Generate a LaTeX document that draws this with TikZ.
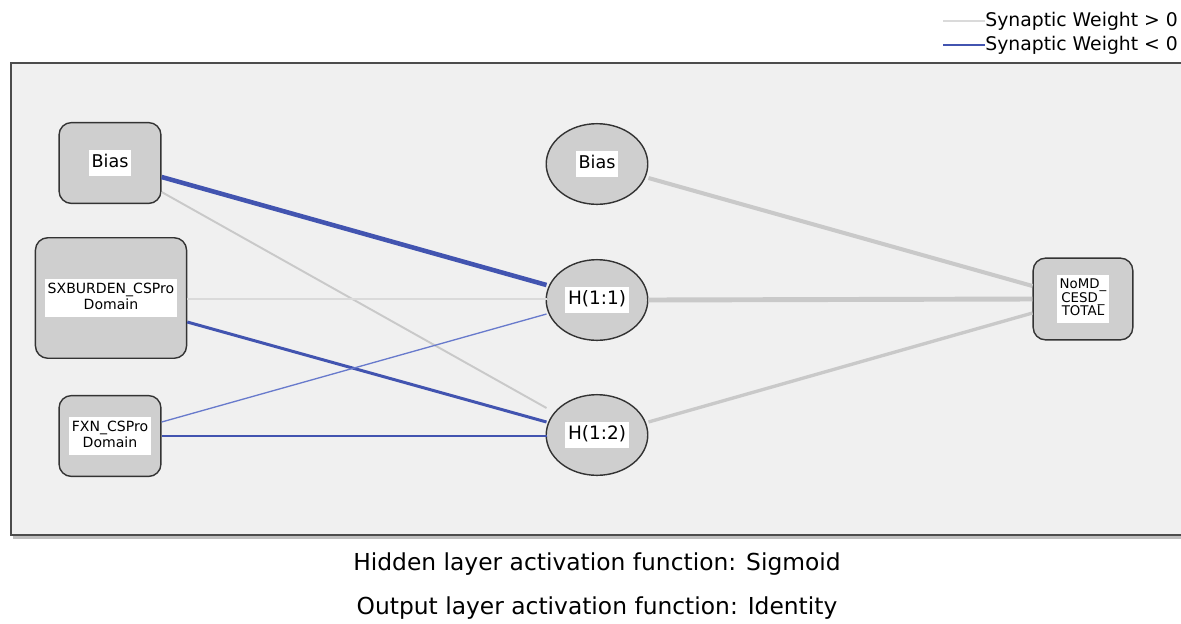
\documentclass[tikz,border=0pt]{standalone}
\usepackage{fontspec}
\setmainfont{DejaVu Sans}
\usetikzlibrary{calc,shapes.geometric}

\definecolor{posw}{RGB}{201,201,201}
\definecolor{posl}{RGB}{218,218,218}
\definecolor{negw}{RGB}{66,84,176}
\definecolor{negl}{RGB}{104,122,204}
\definecolor{panel}{RGB}{240,240,240}
\definecolor{unit}{RGB}{207,207,207}

\newcommand{\lbl}[2][7pt]{{\fontsize{#1}{1.15\dimexpr#1\relax}\selectfont\setlength{\fboxsep}{1.6pt}\colorbox{white}{\begin{tabular}{@{}c@{}}#2\end{tabular}}}}

\tikzset{
    unitbox/.style={draw=black!80, line width=0.8pt, fill=unit, rounded corners=7pt, inner sep=0pt},
    hidden/.style={draw=black!80, line width=0.8pt, fill=unit, ellipse, minimum width=57.8pt, minimum height=45.9pt, inner sep=0pt},
    poswt/.style={draw=posw, line cap=butt},
    negwt/.style={draw=negw, line cap=butt}
}

\begin{document}
\begin{tikzpicture}[x=0.02cm, y=-0.02cm]
    \useasboundingbox (0,0) rectangle (1181,623);

    % panel with its shadow
    \fill[black!25] (13,65) rectangle (1190,539);
    \filldraw[fill=panel, draw=black!70, line width=1.1pt] (11,63) rectangle (1190,535);

    % input layer
    \node[unitbox, minimum width=58pt, minimum height=46pt] (ib) at (110,163) {\lbl[10pt]{Bias}};
    \node[unitbox, minimum width=86pt, minimum height=68.6pt] (isx) at (111,298) {\lbl[8pt]{SXBURDEN\_CSPro\\Domain}};
    \node[unitbox, minimum width=58pt, minimum height=46pt] (ifx) at (110,436) {\lbl[8pt]{FXN\_CSPro\\Domain}};

    % hidden layer
    \node[hidden] (hb) at (597,164) {\lbl[10pt]{Bias}};
    \node[hidden] (h11) at (597,300) {\lbl[10.5pt]{H(1:1)}};
    \node[hidden] (h12) at (597,435) {\lbl[10.5pt]{H(1:2)}};

    % output layer
    \node[unitbox, minimum width=56.7pt, minimum height=46.5pt] (out) at (1083,299) {{\lineskiplimit=-5pt\lbl[7.6pt]{NoMD\_\\[-1.2pt]CESD\_\\[-1.2pt]TOTAL}}};

    % weights, input -> hidden
    \draw[negwt, line width=2.6pt] ($(ib.east)+(0,14)$) -- ($(h11.west)+(1,-15)$);
    \draw[poswt, line width=1.1pt] ($(ib.east)+(0,29)$) -- ($(h12.west)+(1,-27)$);
    \draw[posl, line width=1pt] ($(isx.east)+(0,1)$) -- ($(h11.west)+(1,-1)$);
    \draw[negwt, line width=1.7pt] ($(isx.east)+(0,24)$) -- ($(h12.west)+(1,-13)$);
    \draw[negl, line width=0.75pt] ($(ifx.east)+(0,-14)$) -- ($(h11.west)+(1,14)$);
    \draw[negwt, line width=1.3pt] (ifx.east) -- ($(h12.west)+(1,1)$);

    % weights, hidden -> output
    \draw[poswt, line width=2.3pt] ($(hb.east)+(0,14)$) -- ($(out.west)+(0,-13)$);
    \draw[poswt, line width=2.8pt] (h11.east) -- (out.west);
    \draw[poswt, line width=1.9pt] ($(h12.east)+(0,-13)$) -- ($(out.west)+(0,14)$);

    % legend
    \node[anchor=west, inner sep=0pt, font=\fontsize{10.7pt}{12pt}\selectfont] (lgp) at (985,21) {Synaptic Weight > 0};
    \node[anchor=west, inner sep=0pt, font=\fontsize{10.7pt}{12pt}\selectfont] (lgn) at (985,45) {Synaptic Weight < 0};
    \draw[posl, line width=0.8pt] (lgp.west) -- ++(-42,0);
    \draw[negw, line width=0.8pt] (lgn.west) -- ++(-42,0);

    % activation functions
    \node[font=\fontsize{13.3pt}{15pt}\selectfont] (actH) at (597,564) {Hidden layer activation function: Sigmoid};
    \node[font=\fontsize{13.3pt}{15pt}\selectfont] (actO) at (597,608) {Output layer activation function: Identity};
\end{tikzpicture}
\end{document}
